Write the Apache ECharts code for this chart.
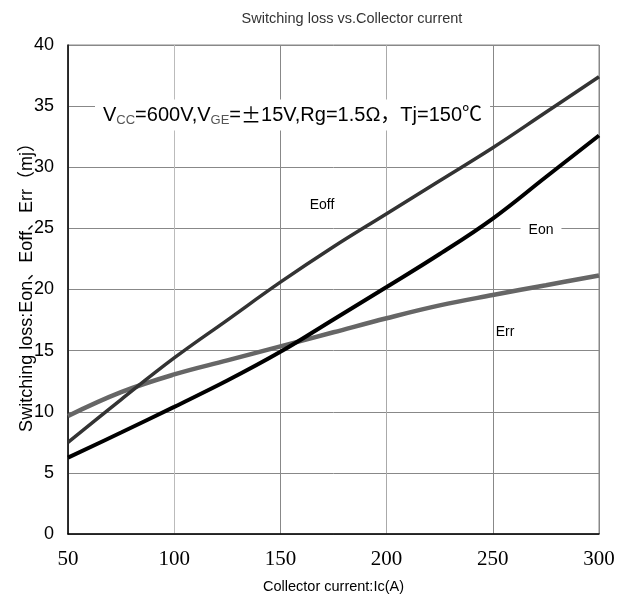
<!DOCTYPE html>
<html>
<head>
<meta charset="utf-8">
<script src="https://cdn.jsdelivr.net/npm/echarts@6/dist/echarts.min.js"></script>
<style>html,body{margin:0;padding:0;background:#fff;}#c{width:627px;height:596px;}</style>
</head>
<body>
<div id="c"></div>
<script>
const current = [50, 75, 100, 125, 150, 175, 200, 225, 250, 275, 300];
const eoff = [7.5, 11.0, 14.4, 17.5, 20.6, 23.5, 26.2, 28.9, 31.6, 34.5, 37.4];
const eon  = [6.25, 8.3, 10.4, 12.55, 14.9, 17.55, 20.2, 22.9, 25.8, 29.2, 32.6];
const err  = [9.65, 11.6, 13.05, 14.2, 15.35, 16.5, 17.65, 18.7, 19.55, 20.35, 21.15];
const xTicks = [50, 100, 150, 200, 250, 300];
const yTicks = [0, 5, 10, 15, 20, 25, 30, 35, 40];

const SANS = '"Liberation Sans", Arial, "Noto Sans CJK SC", sans-serif';
const SERIF = '"Liberation Serif", "Times New Roman", serif';
const CJK = '"Noto Sans CJK SC", sans-serif';

function pairs(xs, ys) { return xs.map((x, i) => [x, ys[i]]); }

const chart = echarts.init(document.getElementById('c'), null, {renderer: 'canvas'});
const option = {
  animation: false,
  backgroundColor: '#fff',
  grid: {left: 68, right: 28, top: 45, bottom: 62, containLabel: false, outerBoundsMode: 'none',
         show: true, borderColor: '#888', borderWidth: 1, backgroundColor: 'transparent'},
  title: {
    text: 'Switching loss vs.Collector current',
    left: 347, top: 7, textAlign: 'center',
    textStyle: {fontFamily: SANS, fontSize: 14.5, fontWeight: 'normal', color: '#333'}
  },
  xAxis: {
    type: 'value', min: xTicks[0], max: xTicks[xTicks.length - 1], interval: 50,
    name: 'Collector current:Ic(A)', nameLocation: 'middle', nameGap: 46,
    nameTextStyle: {fontFamily: SANS, fontSize: 14.5, color: '#000'},
    axisLine: {show: true, lineStyle: {color: '#000', width: 1.5}},
    axisTick: {show: false},
    axisLabel: {fontFamily: SERIF, fontSize: 21, color: '#000', margin: 15},
    splitLine: {show: true, lineStyle: {color: ['#999', '#bbb', '#888', '#aaa', '#888', '#888'], width: 1}}
  },
  yAxis: {
    type: 'value', min: yTicks[0], max: yTicks[yTicks.length - 1], interval: 5,
    axisLine: {show: true, lineStyle: {color: '#000', width: 1.5}},
    axisTick: {show: false},
    axisLabel: {fontFamily: SANS, fontSize: 18, color: '#000', margin: 14},
    splitLine: {show: true, lineStyle: {color: '#888', width: 1}}
  },
  series: [
    {name: 'Eoff', type: 'line', data: pairs(current, eoff), smooth: 0.4, showSymbol: false,
     lineStyle: {color: '#333', width: 3.5}, z: 3},
    {name: 'Eon', type: 'line', data: pairs(current, eon), smooth: 0.4, showSymbol: false,
     lineStyle: {color: '#000', width: 4}, z: 4},
    {name: 'Err', type: 'line', data: pairs(current, err), smooth: 0.4, showSymbol: false,
     lineStyle: {color: '#666', width: 4.5}, z: 2}
  ],
  graphic: [
    {type: 'text', x: 27, y: 283, rotation: Math.PI / 2, z: 10, style: {
      text: 'Switching loss:Eon、Eoff、Err（mj）',
      fontFamily: SANS, fontSize: 18, fill: '#000',
      textAlign: 'center', textVerticalAlign: 'middle'
    }},
    {type: 'text', x: 95, y: 115, z: 10, style: {
      text: 'V{s|CC}=600V,V{s|GE}={pm|±}15V,Rg=1.5Ω，Tj=150℃',
      fontFamily: SANS, fontSize: 20, fill: '#000',
      textVerticalAlign: 'middle', textAlign: 'left',
      backgroundColor: '#fff', padding: [4, 8, 4, 8],
      rich: {
        s: {fontFamily: SANS, fontSize: 13, fill: '#555', padding: [10, 0, 0, 0]},
        pm: {fontFamily: CJK, fontSize: 20, fill: '#000'}
      }
    }},
    {type: 'text', x: 322, y: 205, z: 10, style: {text: 'Eoff', fontFamily: SANS, fontSize: 14, fill: '#000', textAlign: 'center', textVerticalAlign: 'middle'}},
    {type: 'text', x: 541, y: 230, z: 10, style: {text: 'Eon', fontFamily: SANS, fontSize: 14, fill: '#000', textAlign: 'center', textVerticalAlign: 'middle', backgroundColor: '#fff', padding: [2, 8, 2, 8]}},
    {type: 'text', x: 505, y: 332, z: 10, style: {text: 'Err', fontFamily: SANS, fontSize: 14, fill: '#000', textAlign: 'center', textVerticalAlign: 'middle'}}
  ]
};
chart.setOption(option);
</script>
</body>
</html>
